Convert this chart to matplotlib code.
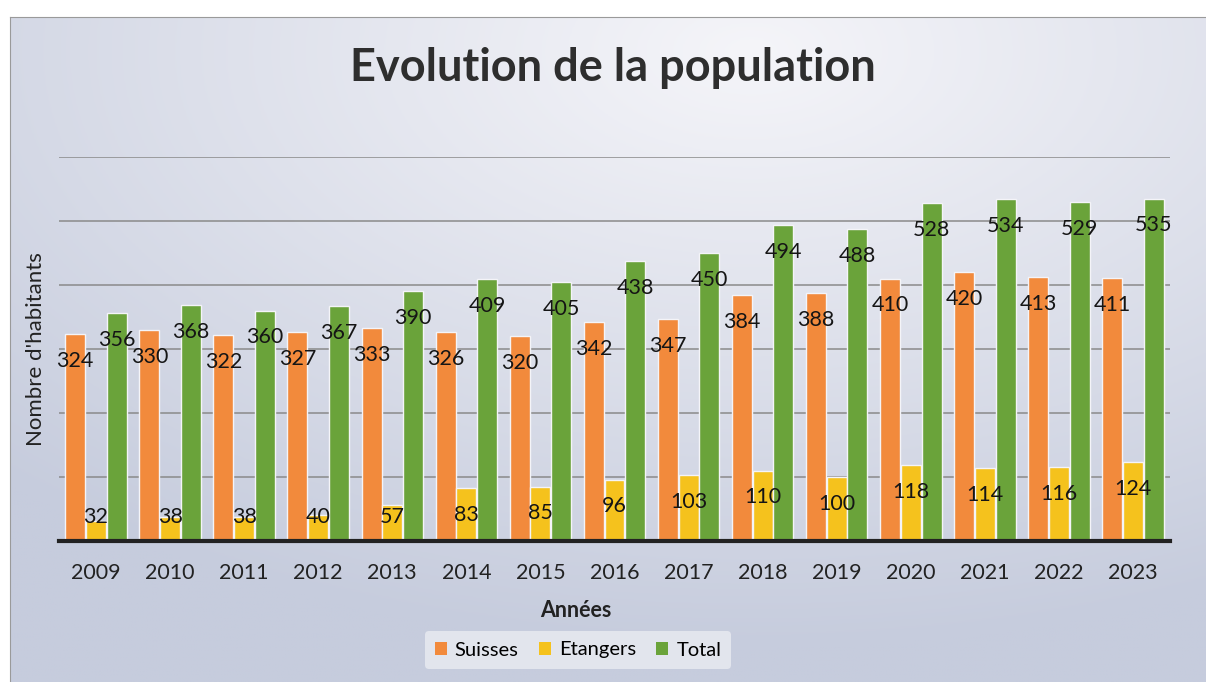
import numpy as np
import matplotlib.pyplot as plt
from matplotlib.patches import Patch

# ============== chart data ==============
years = ['2009', '2010', '2011', '2012', '2013', '2014', '2015', '2016',
         '2017', '2018', '2019', '2020', '2021', '2022', '2023']
suisses = [324, 330, 322, 327, 333, 326, 320, 342, 347, 384, 388, 410, 420, 413, 411]
etrangers = [32, 38, 38, 40, 57, 83, 85, 96, 103, 110, 100, 118, 114, 116, 124]
total = [356, 368, 360, 367, 390, 409, 405, 438, 450, 494, 488, 528, 534, 529, 535]
seriesNames = ['Suisses', 'Etangers', 'Total']
# ========================================

colors = ['#F28A3C', '#F5C21D', '#6AA33A']
plt.rcParams['font.family'] = ['Lato', 'DejaVu Sans']

fig = plt.figure(figsize=(12.06, 6.82), dpi=100)
fig.patch.set_facecolor('white')

# scanned-looking gradient background behind the chart
bg = fig.add_axes([10 / 1206, 0, 1 - 10 / 1206, 1 - 17 / 682])
h, w = 200, 400
yy, xx = np.mgrid[0:1:h * 1j, 0:1:w * 1j]
d = np.sqrt(((xx - 0.62) / 0.9) ** 2 + ((yy - 0.05) / 0.9) ** 2)
d = np.clip(d, 0, 1)
light = np.array([245, 245, 249]) / 255
dark = np.array([198, 204, 221]) / 255
img = light[None, None, :] * (1 - d[..., None]) + dark[None, None, :] * d[..., None]
bg.imshow(img, aspect='auto', extent=[0, 1, 0, 1], origin='upper')
bg.set_xlim(0, 1)
bg.set_ylim(0, 1)
for s in bg.spines.values():
    s.set_color('#9a9a9a')
    s.set_linewidth(0.8)
bg.spines['bottom'].set_visible(False)
bg.spines['right'].set_visible(False)
bg.set_xticks([])
bg.set_yticks([])

ax = fig.add_axes([59 / 1206, 141 / 682, 1111 / 1206, 384 / 682])
ax.patch.set_alpha(0)

x = np.arange(len(years))
barW = 0.27
offsets = [-0.28, 0.0, 0.28]
allSeries = [suisses, etrangers, total]

for vals, off, col, name in zip(allSeries, offsets, colors, seriesNames):
    ax.bar(x + off, vals, width=barW, color=col, edgecolor='#f4f4f8',
           linewidth=1.0, label=name, zorder=3)
    for xi, v in zip(x + off, vals):
        ax.text(xi, max(v - 42, 38), str(v), ha='center', va='center',
                fontsize=15.5, color='#151515', zorder=5)

ax.set_xlim(-0.5, len(years) - 0.5)
ax.set_ylim(0, 600)
ax.set_yticks(np.arange(0, 601, 100))
ax.set_yticklabels([])
ax.tick_params(axis='y', length=0)
ax.yaxis.grid(True, color='#8a8a8a', linewidth=1.1, zorder=0)
ax.set_axisbelow(True)

ax.set_xticks(x)
ax.set_xticklabels(years, fontsize=15.5, color='#222222')
ax.tick_params(axis='x', length=0, pad=16)

for s in ['top', 'right', 'left']:
    ax.spines[s].set_visible(False)
ax.spines['bottom'].set_color('#222222')
ax.spines['bottom'].set_linewidth(3)
ax.spines['bottom'].set_zorder(6)

ax.set_ylabel("Nombre d'habitants", fontsize=16, color='#222222', labelpad=6)
ax.set_xlabel('Années', fontsize=15.5, fontweight='bold', color='#222222')
ax.xaxis.set_label_coords((576 - 59) / 1111, -0.154)

fig.text(613 / 1206, 1 - 68 / 682, 'Evolution de la population', ha='center', va='center',
         fontsize=32.5, fontweight='bold', color='#2e2e2e')

handles = [Patch(facecolor=c, edgecolor='none') for c in colors]
leg = fig.legend(handles, seriesNames, loc='center', bbox_to_anchor=(578 / 1206, 1 - 650 / 682),
                 ncol=3, frameon=True, fontsize=14.5, handlelength=0.6, handleheight=0.6,
                 handletextpad=0.4, columnspacing=1.0, borderpad=0.5)
leg.get_frame().set_facecolor('#e6e8ef')
leg.get_frame().set_edgecolor('none')
leg.get_frame().set_alpha(0.9)

fig.savefig('out.png', dpi=100)
